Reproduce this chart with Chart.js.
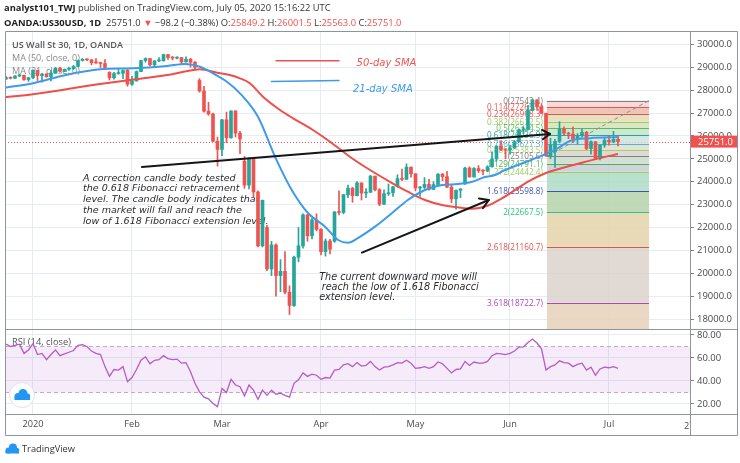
<!DOCTYPE html>
<html lang="en">
<head>
<meta charset="utf-8" />
<title>US Wall St 30, 1D</title>
<script src="https://cdn.jsdelivr.net/npm/chart.js@4"></script>
<style>
  body { margin: 0; background: #fff; width: 740px; height: 463px; overflow: hidden; position: relative; }
  .pane { position: absolute; left: 0; width: 740px; }
</style>
</head>
<body>
<div class="pane" style="top:0;height:329px"><canvas id="price"></canvas></div>
<div class="pane" style="top:329px;height:134px"><canvas id="rsi"></canvas></div>
<script>
// bar index: 0 = 2 Jan 2020, negative = late Dec 2019
const firstIdx = -6;
const monthIdx = [0, 22, 42, 64, 85, 106, 128];
const monthLabels = ['2020', 'Feb', 'Mar', 'Apr', 'May', 'Jun', 'Jul'];
const priceTicks = [18000, 19000, 20000, 21000, 22000, 23000, 24000, 25000, 26000, 27000, 28000, 29000, 30000];
const rsiTicks = [20, 40, 60, 80];

const opens = [
  28480, 28550, 28515, 28620, 28645, 28460,
  28540, 28868, 28634, 28703, 28583, 28745, 28956, 28824, 28907, 28940, 29030, 29297, 29348, 29320, 29196, 29186, 29160, 28780, 28535, 28723, 28734, 28859,
  28256, 28399, 28807, 29290, 29379, 29102, 29276, 29276, 29551, 29423, 29398, 29420, 29232, 29348, 29219, 28420, 27961, 27081, 26957, 25766,
  25409, 26703, 25917, 27091, 26121, 24900, 23851, 25018, 23553, 21200, 22000, 20189, 21237, 19899, 20087, 19174, 18592, 20704, 21200, 22552, 21637, 22327,
  21917, 20944, 21413, 21400, 22680, 22654, 23434, 23719, 23390, 23949, 23505, 23538, 24242, 23650, 23019, 23475, 23516, 23775, 24134, 24101, 24634,
  24346, 23724, 23750, 23883, 23664, 23875, 24331, 24222, 23764, 23248, 23625, 23900, 24597, 24207, 24576, 24474, 24465, 24650, 24995, 25548, 25401,
  25383, 25475, 25742, 26270, 26281, 27111, 27572, 27272, 26990, 25128, 25300, 25763, 26290, 26120, 26080, 25871, 26025, 26156, 25446, 25745, 25016, 25596,
  25813, 25735, 25849.2
];
const highs = [
  28600, 28580, 28630, 28700, 28660, 28560,
  28880, 28870, 28720, 28720, 28870, 28990, 29010, 28920, 29000, 29080, 29310, 29380, 29370, 29340, 29380, 29220, 29330, 28800, 28780, 28900, 28880, 28940,
  28600, 28840, 29300, 29410, 29380, 29290, 29420, 29570, 29560, 29470, 29450, 29430, 29450, 29390, 29240, 28500, 28160, 27470, 27000, 25950,
  26720, 27040, 27100, 27100, 26200, 25100, 25050, 25050, 23600, 23200, 22100, 21400, 21290, 20600, 20950, 19450, 20750, 22000, 22600, 22560, 22400, 22600,
  21950, 21500, 21480, 22700, 23600, 23450, 23850, 23750, 24000, 23950, 23700, 24280, 24250, 23700, 23650, 23900, 23800, 24300, 24550, 24780, 24650,
  24350, 23800, 24180, 24100, 24000, 24350, 24360, 24450, 23850, 23650, 23700, 24630, 24650, 24620, 24700, 24530, 24700, 25300, 25580, 25770, 25440,
  25600, 25800, 26300, 26400, 27340, 27600, 27580, 27360, 26990, 25900, 25850, 26620, 26400, 26160, 26400, 26100, 26300, 26200, 25790, 25760, 25620, 25900,
  26000, 26200, 26001.5
];
const lows = [
  28470, 28490, 28510, 28580, 28420, 28380,
  28500, 28420, 28350, 28560, 28400, 28740, 28780, 28800, 28860, 28900, 29020, 29270, 29290, 29100, 29170, 28990, 28900, 28440, 28480, 28690, 28500, 28170,
  28200, 28390, 28800, 29220, 29060, 29000, 29240, 29270, 29340, 29320, 29360, 29150, 29220, 29000, 28920, 27910, 27040, 26900, 25750, 24680,
  25140, 25710, 25900, 25950, 25220, 23710, 23690, 23330, 21150, 21150, 20120, 19900, 19000, 19200, 19100, 18200, 18550, 20500, 21100, 21400, 21500, 21850,
  20800, 20750, 20850, 21350, 22550, 22600, 23300, 23100, 23380, 23200, 23300, 23530, 23600, 22950, 23000, 23400, 23360, 23770, 24050, 24100, 24200,
  23600, 23360, 23700, 23630, 23650, 23860, 24040, 23740, 23080, 22800, 23300, 23880, 24200, 24200, 24400, 24300, 24440, 24640, 24900, 25350, 25000,
  25200, 25450, 25730, 26100, 26270, 27100, 27180, 26980, 25100, 25000, 24620, 25700, 26050, 25880, 25700, 25650, 25950, 25400, 25200, 24980, 24950, 25500,
  25600, 25700, 25563
];
const closes = [
  28550, 28515, 28620, 28645, 28460, 28540,
  28868, 28634, 28703, 28583, 28745, 28956, 28824, 28907, 28940, 29030, 29297, 29348, 29320, 29196, 29186, 29160, 28989, 28535, 28723, 28734, 28859, 28256,
  28399, 28807, 29290, 29379, 29102, 29276, 29276, 29551, 29423, 29398, 29420, 29232, 29348, 29219, 28992, 27961, 27081, 26957, 25766, 25409,
  26703, 25917, 27091, 26121, 25865, 23851, 25018, 23553, 21200, 23185, 20189, 21237, 19899, 20087, 19174, 18592, 20704, 21200, 22552, 21637, 22327, 21917,
  20944, 21413, 21053, 22680, 22654, 23434, 23719, 23390, 23949, 23505, 23538, 24242, 23650, 23019, 23475, 23516, 23775, 24134, 24101, 24634, 24346,
  23724, 23750, 23883, 23664, 23875, 24331, 24222, 23764, 23248, 23625, 23685, 24597, 24207, 24576, 24474, 24465, 24650, 24995, 25548, 25401, 25383,
  25475, 25742, 26270, 26281, 27111, 27572, 27272, 26990, 25128, 25606, 25763, 26290, 26120, 26080, 25871, 26025, 26156, 25446, 25745, 25016, 25596, 25813,
  25735, 25849, 25751
];
const rsi = [
  72, 70, 71, 72, 64, 67,
  72.5, 63, 64, 58.5, 63, 67, 62, 63.5, 65, 66.5, 71, 71.5, 70, 66, 64, 63, 52.5, 44, 50, 49.5, 52.5, 39.5,
  43, 50, 58, 61, 55, 58, 58.5, 62, 59.5, 58.5, 59, 55.5, 56, 48, 38, 30.5, 26, 24.5, 20.5, 17.7,
  33.5, 30, 41.5, 36.5, 35, 27, 36.5, 32, 24, 32, 27.5, 32, 28.5, 29.5, 27.5, 26, 38, 41, 47, 44, 46, 45,
  41.5, 43, 42.5, 49.5, 50, 54, 55, 52.5, 56, 53, 53.5, 57, 52.5, 49.5, 52, 52.5, 54, 56, 55.5, 58, 55.5,
  51, 51.5, 52.5, 51, 52.5, 56.5, 55, 51, 47, 50, 50.5, 57, 53.5, 56.5, 55.5, 55.5, 57, 62, 64, 63.5, 63,
  64, 66, 69.5, 69.7, 73.5, 76.5, 73, 68, 49.5, 52.5, 54, 57.5, 56, 55.5, 52.5, 54.5, 55.5, 49.5, 52, 45, 50.5, 52,
  51.5, 52.5, 51
];
// moving averages at these bar positions
const sma21Idx = [-6.2, 0, 7.3, 14.9, 22.2, 29.8, 33.8, 37.1, 40, 43.1, 46, 50, 53.8, 57.5, 61.1, 64.9, 67.8, 70, 72.2, 76, 79.8, 83.3, 87.1, 90.9, 94.4, 97.6, 100.4, 102.7, 104.4, 112, 116.4, 119.3, 123.8, 130];
const sma21Val = [28105, 28297, 28660, 28908, 28952, 29052, 29140, 29022, 28734, 28367, 27860, 26832, 25085, 23636, 22632, 22036, 21453, 21336, 21540, 22036, 22632, 23200, 23636, 23855, 23898, 24000, 24204, 24291, 24466, 25049, 25430, 25779, 25900, 25950];
const sma50Idx = [-6.2, 0, 14.9, 21.6, 29.8, 35.6, 37.1, 40.9, 43.7, 46, 48.2, 51.1, 54.9, 57.8, 62.2, 66, 70.4, 74.9, 79.8, 83.3, 87.1, 90.9, 94.4, 97.6, 101, 104, 107, 110, 114, 118, 122, 126, 130];
const sma50Val = [27686, 27816, 28266, 28441, 28660, 28878, 28908, 28760, 28659, 28515, 28297, 27712, 27131, 26768, 26258, 25747, 25092, 24511, 23943, 23563, 23201, 22982, 22882, 22821, 22950, 23250, 23620, 24000, 24380, 24620, 24830, 25030, 25209];

const fibLevels = [0, 0.114, 0.236, 0.382, 0.5, 0.618, 0.786, 0.886, 1, 1.129, 1.272, 1.618, 2, 2.618, 3.618, 4.236];
const fibPrices = [27543.4, 27265.5, 26968.3, 26612.5, 26324.5, 26036.9, 25627.3, 25383.5, 25105.6, 24791.1, 24442.4, 23598.8, 22667.5, 21160.7, 18722.7, 17217.0];
const fibColors = ['#808080', '#e5574f', '#e0524c', '#9ccc65', '#5cb85c', '#26a69a', '#4fb3d9', '#a5cf6f', '#808080', '#4caf50', '#9ccc65', '#3f51b5', '#2ec27e', '#e0524c', '#ab47bc', '#e91e63'];
const fibFills = ['#f6d3d2', '#ecb9a8', '#e3dcb4', '#d5e3b8', '#c5e3c8', '#cde3de', '#dfe0c6', '#d9d4cf', '#c9dacb', '#c6ccd4', '#aedbc6', '#b5d3ac', '#e5d4aa', '#dad2cc', '#e7d1ba'];
const fibSpan = [114.2, 136.9];

const lastPrice = 25751.0;
const xMin = -6.22, xMax = 146;
const up = '#26a69a', down = '#ef5350';
const gridColor = '#e5edf3', frameColor = '#8f939c', textColor = '#4a4a4a';
const UI = '"Open Sans", sans-serif';
const NOTE = '"DejaVu Sans", sans-serif';

const meas = document.createElement('canvas').getContext('2d');
function fitSize(text, target, family, style = '') {
  meas.font = `${style} 20px ${family}`;
  return 20 * target / meas.measureText(text).width;
}
const axisSize = fitSize('30000.0', 35, UI);
const timeSize = fitSize('2020', 21, UI);

function drawSegs(ctx, segs, x, y, size, family) {
  ctx.textBaseline = 'middle';
  ctx.textAlign = 'left';
  let cx = x;
  segs.forEach(s => {
    ctx.font = `${s.w || ''} ${size}px ${family}`;
    ctx.fillStyle = s.c;
    ctx.fillText(s.t, cx, y);
    cx += ctx.measureText(s.t).width;
  });
}
function segSize(segs, target, family) {
  let total = 0;
  segs.forEach(s => { meas.font = `${s.w || ''} 20px ${family}`; total += meas.measureText(s.t).width; });
  return 20 * target / total;
}
function arrow(ctx, x1, y1, x2, y2, head) {
  ctx.beginPath(); ctx.moveTo(x1, y1); ctx.lineTo(x2, y2); ctx.stroke();
  const a = Math.atan2(y2 - y1, x2 - x1);
  ctx.beginPath();
  ctx.moveTo(x2 - head * Math.cos(a - 0.55), y2 - head * Math.sin(a - 0.55));
  ctx.lineTo(x2, y2);
  ctx.lineTo(x2 - head * Math.cos(a + 0.55), y2 - head * Math.sin(a + 0.55));
  ctx.stroke();
}
// keep the plot area exactly where the layout padding puts it
const noPadY = s => { s.width = 48; s.paddingTop = 0; s.paddingBottom = 0; };

const candleColor = c => closes[c.dataIndex] >= opens[c.dataIndex] ? up : down;
const wickData = closes.map((c, i) => ({ x: firstIdx + i, y: [lows[i], highs[i]] }));
const bodyData = closes.map((c, i) => ({ x: firstIdx + i, y: [opens[i], c] }));

const header1 = [
  { t: 'analyst101_TWJ', w: 'bold', c: '#1e1e1e' },
  { t: ' published on TradingView.com, July 05, 2020 15:16:22 UTC', c: '#333' }
];
const header2 = [
  { t: 'OANDA:US30USD, 1D', w: 'bold', c: '#1e1e1e' },
  { t: '  25751.0 ', c: '#333' },
  { t: '▼', c: '#ef5350' },
  { t: ' −98.2 (−0.38%) ', c: '#333' },
  { t: 'O:', c: '#333' }, { t: '25849.2', c: '#ef5350' },
  { t: ' H:', c: '#333' }, { t: '26001.5', c: '#ef5350' },
  { t: ' L:', c: '#333' }, { t: '25563.0', c: '#ef5350' },
  { t: ' C:', c: '#333' }, { t: '25751.0', c: '#ef5350' }
];
const note1 = ['A correction candle body tested', 'the 0.618 Fibonacci retracement', 'level. The candle body indicates that',
  'the market will fall and reach the', 'low of 1.618 Fibonacci extension level.'];
const note2 = ['The current downward move will', 'reach the low of 1.618 Fibonacci', 'extension level.'];

const priceDrawings = {
  id: 'priceDrawings',
  beforeDatasetsDraw(chart) {
    const { ctx, chartArea: a, scales: { x, y } } = chart;
    ctx.save();
    ctx.beginPath(); ctx.rect(a.left, a.top, a.width, a.height); ctx.clip();

    // pane titles
    drawSegs(ctx, [{ t: 'US Wall St 30, 1D, OANDA', w: '600', c: '#555' }], 12, 45.5, fitSize('US Wall St 30, 1D, OANDA', 111, UI, '600'), UI);
    const maSize = fitSize('MA (50, close, 0)', 68, UI);
    drawSegs(ctx, [{ t: 'MA (50, close, 0)', c: '#8a8a8a' }], 12, 58.5, maSize, UI);
    drawSegs(ctx, [{ t: 'MA (21, close, 0)', c: '#8a8a8a' }], 12, 71.5, maSize, UI);

    // last price line
    const py = Math.round(y.getPixelForValue(lastPrice)) + 0.5;
    ctx.strokeStyle = '#ef5350'; ctx.lineWidth = 1; ctx.setLineDash([1, 2]);
    ctx.beginPath(); ctx.moveTo(a.left, py); ctx.lineTo(a.right, py); ctx.stroke();
    ctx.setLineDash([]);

    // fibonacci box
    const fx0 = x.getPixelForValue(fibSpan[0]), fx1 = x.getPixelForValue(fibSpan[1]);
    ctx.globalAlpha = 0.85;
    for (let i = 0; i < fibLevels.length - 1; i++) {
      const ya = y.getPixelForValue(fibPrices[i]), yb = y.getPixelForValue(fibPrices[i + 1]);
      ctx.fillStyle = fibFills[i];
      ctx.fillRect(fx0, ya, fx1 - fx0, yb - ya);
    }
    ctx.globalAlpha = 1;
    const fibSize = fitSize('1.618(23598.8)', 56, UI);
    fibLevels.forEach((lv, i) => {
      const ly = Math.round(y.getPixelForValue(fibPrices[i])) + 0.5;
      ctx.strokeStyle = fibColors[i]; ctx.lineWidth = 1;
      ctx.beginPath(); ctx.moveTo(fx0, ly); ctx.lineTo(fx1, ly); ctx.stroke();
      ctx.font = `${fibSize}px ${UI}`;
      ctx.fillStyle = fibColors[i]; ctx.textAlign = 'right'; ctx.textBaseline = 'middle';
      ctx.fillText(`${lv}(${fibPrices[i].toFixed(1)})`, fx0 - 4, ly);
    });
    ctx.strokeStyle = '#8a8d96'; ctx.setLineDash([4, 3]);
    ctx.beginPath();
    ctx.moveTo(fx0, y.getPixelForValue(fibPrices[8]));
    ctx.lineTo(fx1, y.getPixelForValue(fibPrices[0]));
    ctx.stroke();
    ctx.setLineDash([]);

    // notes
    const n1 = fitSize(note1[0], 153, NOTE, 'italic');
    const n1x = x.getPixelForValue(11.1), n1y = y.getPixelForValue(24148);
    note1.forEach((t, i) => drawSegs(ctx, [{ t, w: 'italic', c: '#2b2b2b' }], n1x, n1y + i * 10.7, n1, NOTE));
    const n2 = fitSize(note2[0], 158, NOTE, 'italic');
    const n2x = x.getPixelForValue(63.6), n2y = y.getPixelForValue(19807);
    note2.forEach((t, i) => drawSegs(ctx, [{ t, w: 'italic', c: '#2b2b2b' }], n2x + (i === 1 ? 2.5 : 0), n2y + i * 10, n2, NOTE));
    ctx.restore();
  },
  afterDatasetsDraw(chart) {
    const { ctx, chartArea: a, scales: { x, y } } = chart;
    const P = (i, p) => [x.getPixelForValue(i), y.getPixelForValue(p)];
    ctx.save();
    ctx.beginPath(); ctx.rect(a.left, a.top, a.width, a.height); ctx.clip();
    ctx.strokeStyle = '#161616'; ctx.lineWidth = 2; ctx.lineCap = 'round'; ctx.lineJoin = 'round';
    arrow(ctx, ...P(24.2, 24642), ...P(114.9, 26083), 9);
    arrow(ctx, ...P(73.1, 20900), ...P(101.3, 23201), 10);

    // hand-drawn legend
    ctx.lineWidth = 1.5;
    ctx.strokeStyle = '#ef5350';
    ctx.beginPath(); ctx.moveTo(...P(54, 29284)); ctx.lineTo(...P(68, 29284)); ctx.stroke();
    ctx.strokeStyle = '#3d9be9';
    ctx.beginPath(); ctx.moveTo(...P(53, 28374)); ctx.lineTo(...P(68, 28418)); ctx.stroke();
    const ls = fitSize('50-day SMA', 60, NOTE, 'italic');
    drawSegs(ctx, [{ t: '50-day SMA', w: 'italic', c: '#ef5350' }], ...P(71.9, 29170), ls, NOTE);
    drawSegs(ctx, [{ t: '21-day SMA', w: 'italic', c: '#3d9be9' }], ...P(71.1, 28048), ls, NOTE);
    ctx.restore();
  },
  afterDraw(chart) {
    const { ctx, chartArea: a, scales: { y } } = chart;
    ctx.save();
    drawSegs(ctx, header1, 4, 8.5, segSize(header1, 327, UI), UI);
    drawSegs(ctx, header2, 4, 23, segSize(header2, 398, UI), UI);

    // frame
    ctx.strokeStyle = frameColor; ctx.lineWidth = 1;
    ctx.beginPath();
    ctx.moveTo(5.5, 329); ctx.lineTo(5.5, 31.5); ctx.lineTo(737.5, 31.5); ctx.lineTo(737.5, 329);
    ctx.stroke();

    // last price tag
    const py = y.getPixelForValue(lastPrice);
    ctx.fillStyle = '#ef5350';
    ctx.fillRect(a.right + 1, py - 6, 46, 12);
    ctx.font = `${axisSize}px ${UI}`;
    ctx.fillStyle = '#fff'; ctx.textAlign = 'left'; ctx.textBaseline = 'middle';
    ctx.fillText(lastPrice.toFixed(1), a.right + 8, py + 0.5);
    ctx.restore();
  }
};

new Chart(document.getElementById('price'), {
  type: 'bar',
  data: {
    datasets: [
      { type: 'line', label: 'MA 21', data: sma21Idx.map((v, i) => ({ x: v, y: sma21Val[i] })),
        borderColor: '#3d9be9', borderWidth: 2, pointRadius: 0, cubicInterpolationMode: 'monotone', order: 0 },
      { type: 'line', label: 'MA 50', data: sma50Idx.map((v, i) => ({ x: v, y: sma50Val[i] })),
        borderColor: '#ef4f4a', borderWidth: 2, pointRadius: 0, cubicInterpolationMode: 'monotone', order: 0 },
      { label: 'body', data: bodyData, backgroundColor: candleColor, barThickness: 3, minBarLength: 1, grouped: false, order: 1 },
      { label: 'wick', data: wickData, backgroundColor: candleColor, barThickness: 1, grouped: false, order: 2 }
    ]
  },
  options: {
    animation: false,
    responsive: true,
    maintainAspectRatio: false,
    devicePixelRatio: 1,
    layout: { padding: { left: 5, top: 32, right: 2, bottom: 0 } },
    plugins: { legend: { display: false }, tooltip: { enabled: false } },
    scales: {
      x: {
        type: 'linear', min: xMin, max: xMax, offset: false,
        afterBuildTicks: s => { s.ticks = monthIdx.map(v => ({ value: v })); },
        afterFit: s => { s.height = 0; s.paddingLeft = 0; s.paddingRight = 0; },
        ticks: { display: false },
        grid: { color: gridColor, drawTicks: false, offset: false },
        border: { display: false }
      },
      y: {
        position: 'right', min: 17568, max: 30537,
        afterBuildTicks: s => { s.ticks = priceTicks.map(v => ({ value: v })); },
        afterFit: noPadY,
        ticks: { callback: v => v.toFixed(1), color: textColor, font: { family: UI, size: axisSize }, padding: 3 },
        grid: { color: gridColor, tickColor: '#7c7f88', tickLength: 4 },
        border: { color: frameColor }
      }
    }
  },
  plugins: [priceDrawings]
});

const rsiDrawings = {
  id: 'rsiDrawings',
  beforeDatasetsDraw(chart) {
    const { ctx, chartArea: a, scales: { y } } = chart;
    ctx.save();
    const y70 = y.getPixelForValue(70), y30 = y.getPixelForValue(30);
    ctx.fillStyle = 'rgba(186, 104, 200, 0.13)';
    ctx.fillRect(a.left, y70, a.width, y30 - y70);
    ctx.strokeStyle = '#c3a9cf'; ctx.lineWidth = 1; ctx.setLineDash([4, 3]);
    [y70, y30].forEach(v => {
      ctx.beginPath(); ctx.moveTo(a.left, Math.round(v) + 0.5); ctx.lineTo(a.right, Math.round(v) + 0.5); ctx.stroke();
    });
    ctx.setLineDash([]);
    drawSegs(ctx, [{ t: 'RSI (14, close)', c: '#555' }], 12, 13.5, fitSize('RSI (14, close)', 59, UI), UI);

    // TradingView badge
    const cx = 22, cy = 66;
    ctx.fillStyle = '#fff'; ctx.strokeStyle = '#dfe2e8';
    ctx.beginPath(); ctx.arc(cx, cy, 12.5, 0, Math.PI * 2); ctx.fill(); ctx.stroke();
    ctx.fillStyle = '#2196f3';
    ctx.beginPath();
    ctx.arc(cx - 4, cy + 1.5, 3.5, 0, Math.PI * 2);
    ctx.arc(cx + 1, cy - 1.5, 4.5, 0, Math.PI * 2);
    ctx.arc(cx + 5, cy + 1.5, 3.2, 0, Math.PI * 2);
    ctx.fill();
    ctx.fillRect(cx - 7.5, cy + 1.5, 15.5, 3.5);
    ctx.restore();
  },
  afterDraw(chart) {
    const { ctx } = chart;
    ctx.save();
    ctx.strokeStyle = frameColor; ctx.lineWidth = 1;
    ctx.beginPath();
    ctx.moveTo(5, 0.5); ctx.lineTo(738, 0.5);
    ctx.moveTo(5.5, 0); ctx.lineTo(5.5, 106.5); ctx.lineTo(737.5, 106.5); ctx.lineTo(737.5, 0);
    ctx.moveTo(690.5, 85); ctx.lineTo(690.5, 106.5);
    ctx.moveTo(5, 85.5); ctx.lineTo(738, 85.5);
    ctx.stroke();

    // next time label, cut by the price axis
    ctx.save();
    ctx.beginPath(); ctx.rect(5, 86, 685, 20); ctx.clip();
    ctx.font = `${timeSize}px ${UI}`; ctx.fillStyle = textColor;
    ctx.textAlign = 'left'; ctx.textBaseline = 'middle';
    ctx.fillText('27', 684, 97);
    ctx.restore();

    // footer logo
    const lx = 12, ly = 120;
    ctx.fillStyle = '#2196f3';
    ctx.beginPath();
    ctx.arc(lx - 3.5, ly + 1.5, 3, 0, Math.PI * 2);
    ctx.arc(lx + 1, ly - 1.5, 4, 0, Math.PI * 2);
    ctx.arc(lx + 4.5, ly + 1.5, 2.8, 0, Math.PI * 2);
    ctx.fill();
    ctx.fillRect(lx - 6.5, ly + 1.5, 13.5, 3);
    drawSegs(ctx, [{ t: 'TradingView', c: '#333' }], 22, ly + 0.5, fitSize('TradingView', 53, UI), UI);
    ctx.restore();
  }
};

new Chart(document.getElementById('rsi'), {
  type: 'line',
  data: {
    datasets: [
      { label: 'RSI', data: rsi.map((v, i) => ({ x: firstIdx + i, y: v })),
        borderColor: '#b45cc7', borderWidth: 1.3, pointRadius: 0, tension: 0 }
    ]
  },
  options: {
    animation: false,
    responsive: true,
    maintainAspectRatio: false,
    devicePixelRatio: 1,
    layout: { padding: { left: 5, top: 0, right: 2, bottom: 26 } },
    plugins: { legend: { display: false }, tooltip: { enabled: false } },
    scales: {
      x: {
        type: 'linear', min: xMin, max: xMax,
        afterBuildTicks: s => { s.ticks = monthIdx.map(v => ({ value: v })); },
        afterFit: s => { s.height = 23; s.paddingLeft = 0; s.paddingRight = 0; },
        ticks: { callback: (v, i) => monthLabels[i], autoSkip: false, maxRotation: 0,
          color: textColor, font: { family: UI, size: timeSize }, padding: 5 },
        grid: { color: gridColor, drawTicks: false },
        border: { display: false }
      },
      y: {
        position: 'right', min: 11.3, max: 85.2,
        afterBuildTicks: s => { s.ticks = rsiTicks.map(v => ({ value: v })); },
        afterFit: noPadY,
        ticks: { callback: v => v.toFixed(2), color: textColor, font: { family: UI, size: axisSize }, padding: 3 },
        grid: { color: gridColor, tickColor: '#7c7f88', tickLength: 4 },
        border: { color: frameColor }
      }
    }
  },
  plugins: [rsiDrawings]
});
</script>
</body>
</html>
